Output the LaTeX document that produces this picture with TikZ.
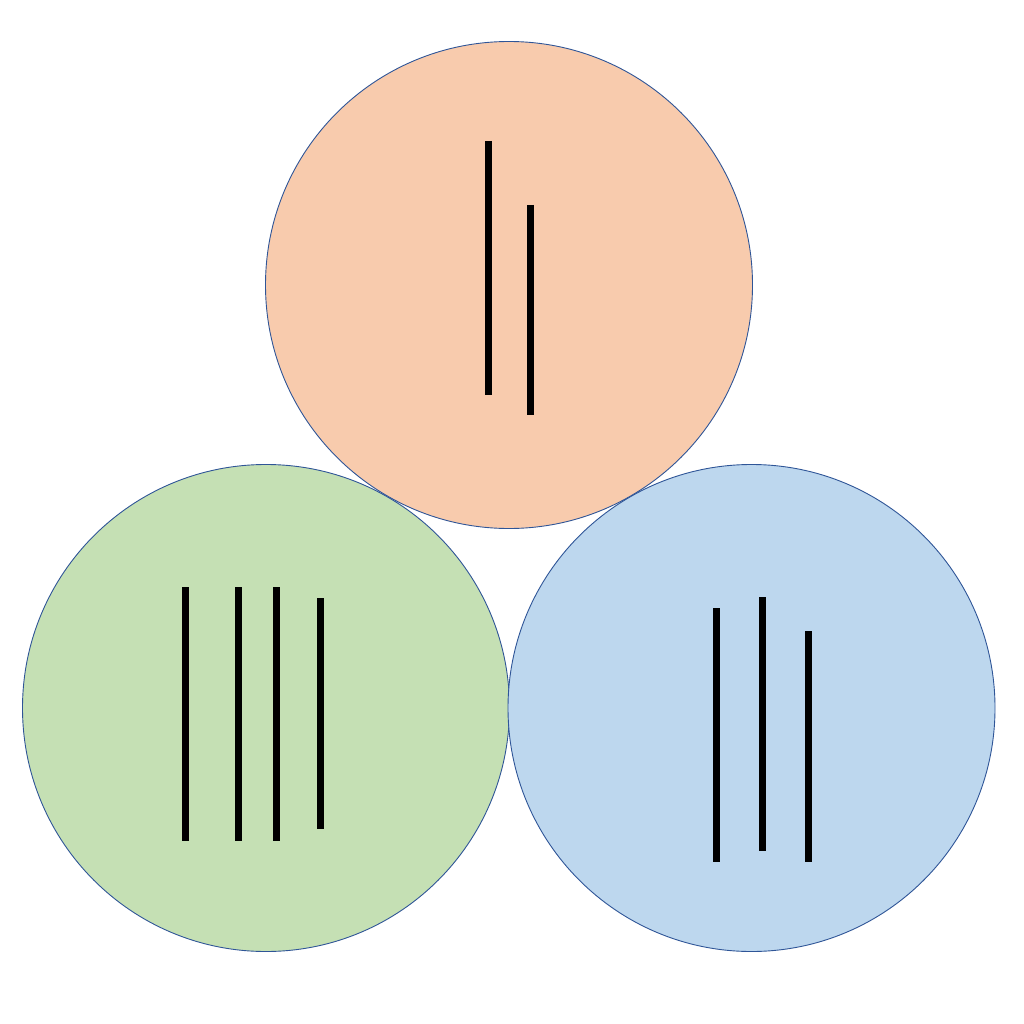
\documentclass[tikz,border=0pt]{standalone}
\begin{document}
\begin{tikzpicture}[x=1pt,y=-1pt,
  disc/.style={circle,draw=outl,line width=0.9pt,minimum size=487pt,inner sep=0pt},
  tally/.style={line width=7pt,black}]
\definecolor{outl}{HTML}{2F5597}
\definecolor{orangefill}{HTML}{F8CBAD}
\definecolor{greenfill}{HTML}{C5E0B4}
\definecolor{bluefill}{HTML}{BDD7EE}
\useasboundingbox (0,0) rectangle (1024,1024);
\node[disc,fill=orangefill] (top) at (509,285) {};
\node[disc,fill=greenfill] (left) at (266,708) {};
\node[disc,fill=bluefill] (right) at (751.5,708) {};
% top tallies
\draw[tally] (488.5,141) -- (488.5,395);
\draw[tally] (530.5,205) -- (530.5,415);
% left tallies
\draw[tally] (185,587) -- (185,841);
\draw[tally] (238,587) -- (238,841);
\draw[tally] (276,587) -- (276,841);
\draw[tally] (320,598) -- (320,829);
% right tallies
\draw[tally] (716,608) -- (716,862);
\draw[tally] (762,597) -- (762,851);
\draw[tally] (808,631) -- (808,862);
\end{tikzpicture}
\end{document}
